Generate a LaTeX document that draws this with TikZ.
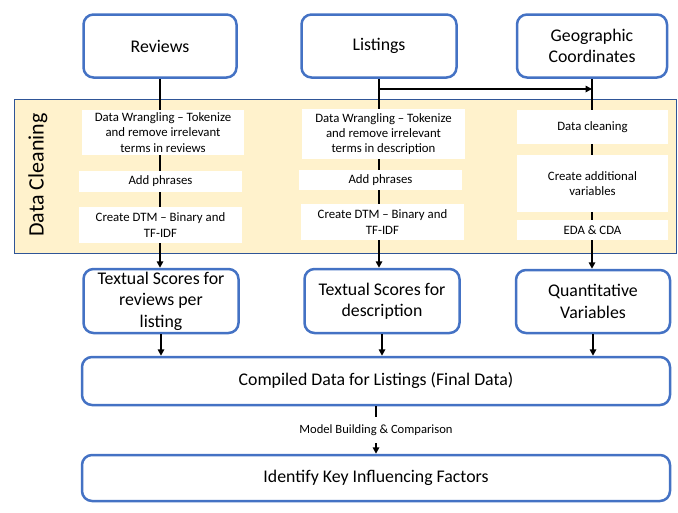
\documentclass[tikz,border=0pt]{standalone}
\usepackage{fontspec}
\setmainfont{Carlito}
\usetikzlibrary{arrows.meta}
\definecolor{boxblue}{HTML}{4472C4}
\definecolor{bandfill}{HTML}{FFF2CC}
\definecolor{bandline}{HTML}{2F5597}
\begin{document}
\begin{tikzpicture}[x=1pt,y=-1pt,
  mainbox/.style={draw=boxblue, line width=2.5pt, rounded corners=10pt, fill=white, align=center, font=\fontsize{17.8}{21.5}\selectfont, inner sep=0pt},
  stepbox/.style={fill=white, align=center, font=\fontsize{12.8}{15.3}\selectfont, inner sep=0pt},
  conn/.style={line width=1.6pt, draw=black},
  arr/.style={conn, -{Triangle[length=6.5pt,width=6.5pt]}}
]
\useasboundingbox (0,0) rectangle (678,512);
% band
\node[draw=bandline, line width=0.8pt, fill=bandfill, minimum width=662pt, minimum height=154pt, inner sep=0pt] (band) at (345,176) {};
\node[rotate=90, font=\fontsize{22}{26}\selectfont] (dclab) at (38,175) {Data Cleaning};
% top boxes
\node[mainbox, minimum width=153pt, minimum height=63pt] (rev) at (160,46) {Reviews};
\node[mainbox, minimum width=155pt, minimum height=63pt] (lst) at (379,46) {Listings};
\node[mainbox, minimum width=150pt, minimum height=63pt] (geo) at (592,46) {Geographic\\Coordinates};
% lower boxes
\node[mainbox, minimum width=155pt, minimum height=64pt] (t1) at (161,301) {Textual Scores for\\reviews per\\listing};
\node[mainbox, minimum width=155pt, minimum height=64pt] (t2) at (382,301) {Textual Scores for\\description};
\node[mainbox, minimum width=154pt, minimum height=63pt] (t3) at (593,301.5) {Quantitative\\Variables};
\node[mainbox, minimum width=588pt, minimum height=48pt] (comp) at (376,381) {Compiled Data for Listings (Final Data)};
\node[mainbox, minimum width=588pt, minimum height=46pt] (ident) at (376,478) {Identify Key Influencing Factors};
% connectors through band
\draw[arr] (rev.south) -- (rev.south |- t1.north);
\draw[arr] (lst.south) -- (lst.south |- t2.north);
\draw[arr] (geo.south) -- (geo.south |- t3.north);
\coordinate (sp) at (lst.south |- 0,89);
\draw[arr] (sp) -- (geo.south |- sp);
% white step boxes
\node[stepbox, minimum width=162pt, minimum height=45pt] (r1) at (163,132.5) {Data Wrangling – Tokenize\\and remove irrelevant\\terms in reviews};
\node[stepbox, minimum width=163pt, minimum height=21pt] (r2) at (160.5,181.5) {Add phrases};
\node[stepbox, minimum width=163pt, minimum height=36pt] (r3) at (160.5,225) {Create DTM – Binary and\\TF-IDF};
\node[stepbox, minimum width=163pt, minimum height=50pt] (l1) at (383.5,134) {Data Wrangling – Tokenize\\and remove irrelevant\\terms in description};
\node[stepbox, minimum width=163pt, minimum height=20pt] (l2) at (380.5,180) {Add phrases};
\node[stepbox, minimum width=163pt, minimum height=36pt] (l3) at (382.5,222) {Create DTM – Binary and\\TF-IDF};
\node[stepbox, minimum width=151pt, minimum height=34pt] (g1) at (592.5,127) {Data cleaning};
\node[stepbox, minimum width=151pt, minimum height=57pt] (g2) at (592.5,183.5) {Create additional\\variables};
\node[stepbox, minimum width=151pt, minimum height=20pt] (g3) at (592.5,230) {EDA \& CDA};
% lower connectors
\draw[arr] (t1.south) -- (t1.south |- comp.north);
\draw[arr] (t2.south) -- (t2.south |- comp.north);
\draw[arr] (t3.south) -- (t3.south |- comp.north);
\draw[arr] (comp.south) -- node[fill=white, inner xsep=2pt, inner ysep=8pt, font=\fontsize{12.6}{15}\selectfont] (mb) {Model Building \& Comparison} (ident.north);
\end{tikzpicture}
\end{document}
